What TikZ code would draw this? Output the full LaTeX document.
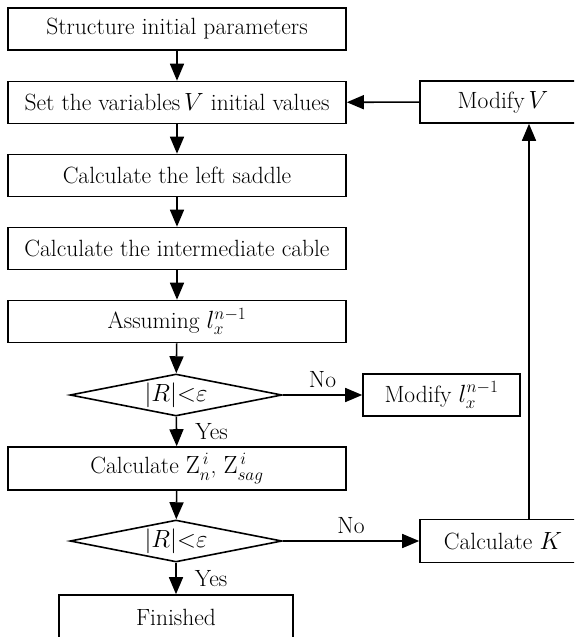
\documentclass[tikz,border=0pt]{standalone}
\usepackage{amsmath,amssymb}
\usepackage{tkz-euclide}
\usetikzlibrary{arrows.meta,shapes.geometric}

\tikzset{
  box/.style={draw, line width=1.6pt, inner sep=0pt, minimum height=42pt,
    font=\fontsize{23.5}{28}\selectfont},
  test/.style={draw, diamond, aspect=5, line width=1.6pt, inner sep=0pt,
    minimum width=212pt, minimum height=42pt, font=\fontsize{23.5}{28}\selectfont},
  lab/.style={font=\fontsize{23.5}{28}\selectfont, inner sep=1pt}
}

\begin{document}
\begin{tikzpicture}[x=1pt, y=-1pt, line width=1.6pt,
  >={Triangle[length=17pt, width=14pt]}]

\useasboundingbox (0,0) rectangle (574,637);
\clip (0,0) rectangle (574,637);

%% 定义各结点的中心(x/y/<name>)
\tkzDefPoints{177/29/A, 177/102.5/B, 177/175.5/C, 177/248.5/D, 177/321.5/E,
  176/395/F, 441.5/395/G, 177/468.5/H, 176/541/I, 503/541/J, 503/102/K, 176/617/L}

%% 左边主流程
\node[box, minimum width=338pt] (start) at (A) {Structure initial parameters};
\node[box, minimum width=338pt] (init) at (B) {Set the variables\,$V$ initial values};
\node[box, minimum width=338pt] (left) at (C) {Calculate the left saddle};
\node[box, minimum width=338pt] (cable) at (D) {Calculate the intermediate cable};
\node[box, minimum width=338pt] (assume) at (E) {Assuming $l_x^{n-1}$};
\node[test] (testR) at (F) {$|R|{<}\varepsilon$};
\node[box, minimum width=338pt, minimum height=43pt] (calcZ) at (H)
  {Calculate $\mathrm{Z}_n^{\,i}$, $\mathrm{Z}_{sag}^{\,i}$};
\node[test] (testK) at (I) {$|R|{<}\varepsilon$};
\node[box, minimum width=234pt, minimum height=44pt] (finish) at (L) {Finished};

%% 右边的修正框
\node[box, minimum width=157pt] (modl) at (G) {Modify $l_x^{n-1}$};
\node[box, minimum width=166pt, minimum height=43pt] (calcK) at (J) {Calculate $K$};
\node[box, minimum width=166pt] (modV) at (K) {Modify\,$V$};

%% 连接
\draw[->] (start) -- (init);
\draw[->] (init) -- (left);
\draw[->] (left) -- (cable);
\draw[->] (cable) -- (assume);
\draw[->] (assume) -- (testR);
\draw[->] (testR) -- node[lab, right=17pt] {Yes} (calcZ);
\draw[->] (testR) -- node[lab, above=6pt] {No} (modl);
\draw[->] (calcZ) -- (testK);
\draw[->] (testK) -- node[lab, right=17pt] {Yes} (finish);
\draw[->] (testK) -- node[lab, above=6pt] {No} (calcK);
\draw[->] ([xshift=26pt]calcK.north) -- ([xshift=26pt]modV.south);
\draw[->] (modV) -- (init);

\end{tikzpicture}
\end{document}
